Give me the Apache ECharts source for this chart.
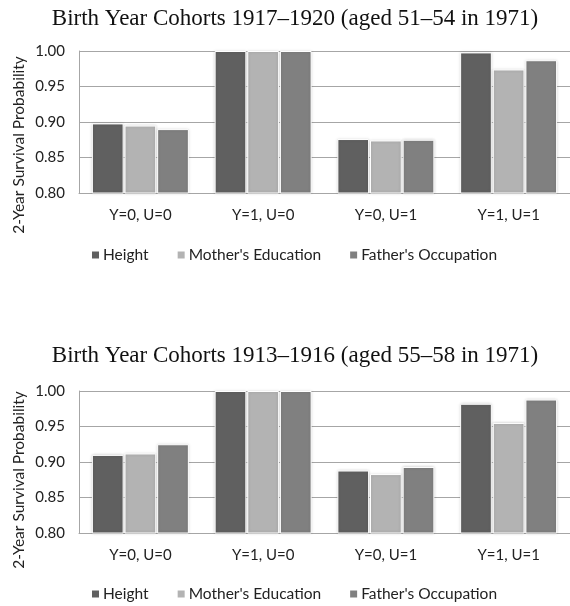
<!DOCTYPE html>
<html>
<head>
<meta charset="utf-8">
<script src="https://cdn.jsdelivr.net/npm/echarts@6/dist/echarts.min.js"></script>
<style>
  html, body { margin: 0; padding: 0; background: #ffffff; }
  #chart { width: 570px; height: 606px; }
</style>
</head>
<body>
<div id="chart"></div>
<script>
// ---- data ----
const categories = ['Y=0, U=0', 'Y=1, U=0', 'Y=0, U=1', 'Y=1, U=1'];
const seriesNames = ['Height', "Mother's Education", "Father's Occupation"];
const yTickLabels = ['0.80', '0.85', '0.90', '0.95', '1.00'];
const titleTop = 'Birth Year Cohorts 1917–1920 (aged 51–54 in 1971)';
const titleBottom = 'Birth Year Cohorts 1913–1916 (aged 55–58 in 1971)';
const yAxisTitle = '2-Year Survival Probability';
// cohort 1917–1920
const heightTop = [0.898, 1.000, 0.876, 0.998];
const motherTop = [0.895, 1.000, 0.874, 0.974];
const fatherTop = [0.890, 1.000, 0.875, 0.987];
// cohort 1913–1916
const heightBottom = [0.910, 1.000, 0.888, 0.982];
const motherBottom = [0.912, 1.000, 0.883, 0.955];
const fatherBottom = [0.925, 1.000, 0.893, 0.988];

// ---- styles ----
const colors = ['#606060', '#b3b3b3', '#808080'];
const sansFont = 'Lato';
const serifFont = 'Liberation Serif';

const chart = echarts.init(document.getElementById('chart'), null, { renderer: 'canvas' });

const grids = [
  { left: 79, top: 51, width: 495, height: 142 },
  { left: 79, top: 391, width: 495, height: 142 }
];

function xAxisFor(gi) {
  return {
    type: 'category', gridIndex: gi, data: categories,
    axisLine: { show: true, lineStyle: { color: '#a6a6a6', width: 1 } },
    axisTick: { show: false },
    axisLabel: { color: '#222', fontFamily: sansFont, fontSize: 15, margin: 15 }
  };
}
function yAxisFor(gi) {
  return {
    type: 'value', gridIndex: gi, min: 0.80, max: 1.00, interval: 0.05,
    axisLine: { show: true, lineStyle: { color: '#a6a6a6', width: 1 } },
    axisTick: { show: false },
    splitLine: { lineStyle: { color: '#a6a6a6', width: 1 } },
    axisLabel: {
      color: '#222', fontFamily: sansFont, fontSize: 15, margin: 14,
      formatter: function (v) {
        const idx = Math.round((v - 0.80) / 0.05);
        return yTickLabels[idx] !== undefined ? yTickLabels[idx] : '';
      }
    }
  };
}

const seriesData = [
  [heightTop, motherTop, fatherTop],
  [heightBottom, motherBottom, fatherBottom]
];
const series = [];
seriesData.forEach(function (group, gi) {
  group.forEach(function (vals, si) {
    series.push({
      name: seriesNames[si], type: 'bar',
      xAxisIndex: gi, yAxisIndex: gi,
      data: vals,
      barGap: '3%', barCategoryGap: '21%',
      itemStyle: {
        color: colors[si], borderColor: '#ffffff', borderWidth: 1,
        shadowColor: 'rgba(0,0,0,0.18)', shadowBlur: 3
      },
      emphasis: { disabled: true },
      animation: false
    });
  });
});

function legendFor(top) {
  return {
    top: top, left: 85, data: seriesNames,
    icon: 'rect', itemWidth: 9, itemHeight: 9, itemGap: 27,
    textStyle: { color: '#222', fontFamily: sansFont, fontSize: 15.5, padding: [0, 0, 0, -2] },
    selectedMode: false
  };
}

chart.setOption({
  animation: false,
  color: colors,
  title: [
    { text: titleTop, left: 290, textAlign: 'center', top: 2,
      textStyle: { fontFamily: serifFont, fontWeight: 'normal', fontSize: 23, color: '#111' } },
    { text: titleBottom, left: 290, textAlign: 'center', top: 339,
      textStyle: { fontFamily: serifFont, fontWeight: 'normal', fontSize: 23, color: '#111' } }
  ],
  legend: [legendFor(242), legendFor(581)],
  grid: grids,
  xAxis: [xAxisFor(0), xAxisFor(1)],
  yAxis: [yAxisFor(0), yAxisFor(1)],
  graphic: [
    { type: 'text', x: 19, y: 145, rotation: Math.PI / 2,
      style: { text: yAxisTitle, fontFamily: sansFont, fontSize: 15.5, fill: '#222',
               align: 'center', verticalAlign: 'middle' } },
    { type: 'text', x: 19, y: 480, rotation: Math.PI / 2,
      style: { text: yAxisTitle, fontFamily: sansFont, fontSize: 15.5, fill: '#222',
               align: 'center', verticalAlign: 'middle' } }
  ],
  series: series
});
</script>
</body>
</html>
